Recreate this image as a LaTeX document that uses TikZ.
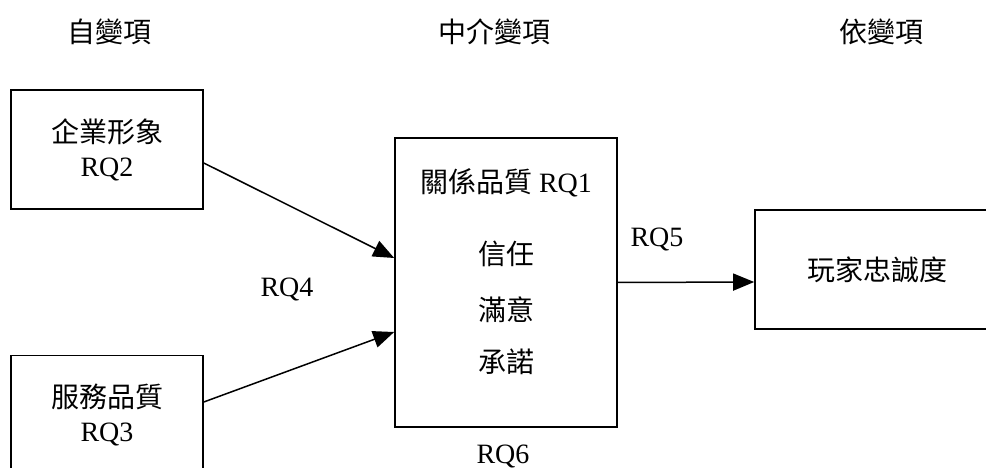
\documentclass[tikz,border=0pt]{standalone}
\usepackage{fontspec}
\setmainfont{Liberation Serif}
\newfontfamily\cjkfont{Noto Sans CJK TC}
\newcommand{\zh}[1]{{\cjkfont #1}}
\usetikzlibrary{arrows.meta}
\begin{document}
\begin{tikzpicture}[x=1pt,y=-1pt,
  box/.style={draw,line width=1.6pt,minimum width=192pt,minimum height=119pt,inner sep=0pt,align=center,font=\fontsize{28}{34}\selectfont},
  txt/.style={font=\fontsize{28}{34}\selectfont,inner sep=0pt},
  arr/.style={line width=1.5pt,-{Triangle[length=21pt,width=17pt]}}]
\useasboundingbox (0,0) rectangle (986,468);
\clip (0,0) rectangle (986,468);
% headers
\node[txt] (h1) at (109,32) {\zh{自變項}};
\node[txt] (h2) at (494,32) {\zh{中介變項}};
\node[txt] (h3) at (881,32) {\zh{依變項}};
% boxes
\node[box] (b1) at (107,149.5) {\zh{企業形象}\\RQ2};
\node[box] (b2) at (107,415) {\zh{服務品質}\\RQ3};
\node[box,minimum width=222pt,minimum height=289pt] (b3) at (506,282.5) {};
\node[box,minimum width=244pt] (b4) at (877,269.5) {\zh{玩家忠誠度}};
% middle texts
\node[txt] (m1) at (506,183) {\zh{關係品質} RQ1};
\node[txt] (m2) at (506,254) {\zh{信任}};
\node[txt] (m3) at (506,310) {\zh{滿意}};
\node[txt] (m4) at (506,362) {\zh{承諾}};
% arrows
\draw[arr] ([yshift=-13.5pt]b1.east) -- ([yshift=24.5pt]b3.west);
\draw[arr] ([yshift=13pt]b2.east) -- ([yshift=-49.5pt]b3.west);
\draw[arr] (b3.east) -- ([yshift=-12.5pt]b4.west);
% labels
\node[txt] (l4) at (287,289) {RQ4};
\node[txt] (l5) at (657,239) {RQ5};
\node[txt] (l6) at (503,456) {RQ6};
\end{tikzpicture}
\end{document}
